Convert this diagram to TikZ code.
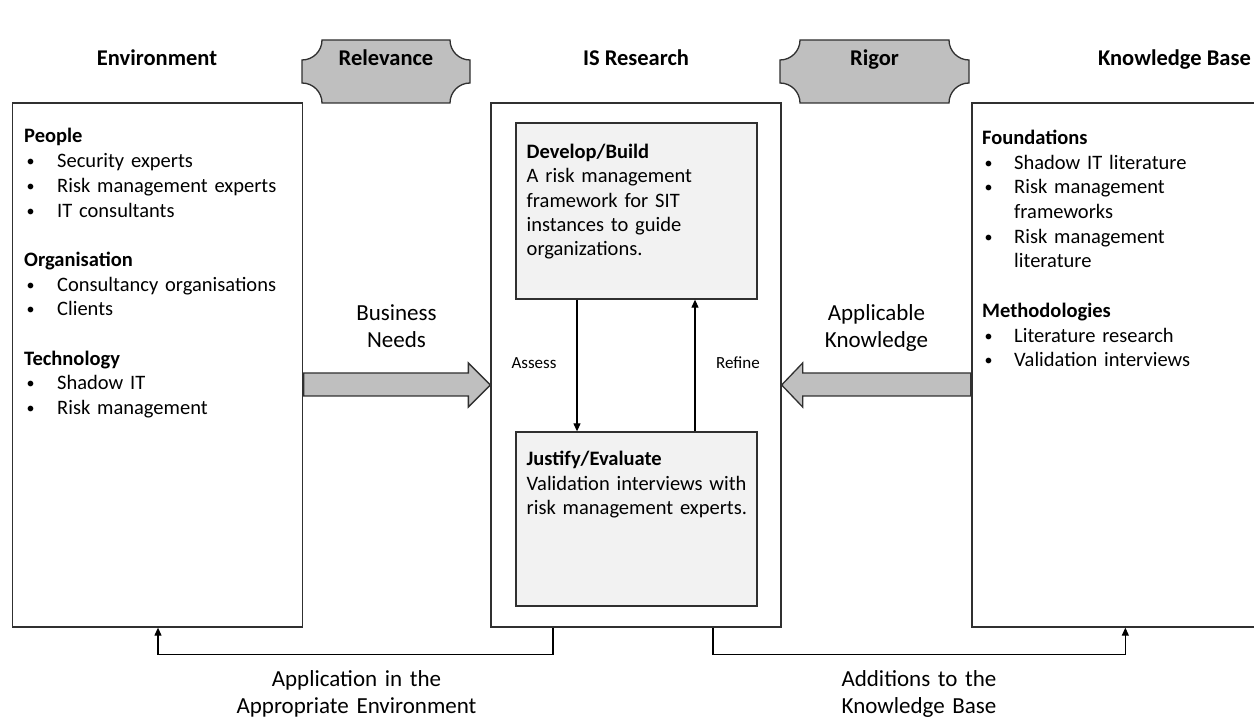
\documentclass[tikz,border=0pt]{standalone}
\usepackage{fontspec}
\setmainfont{Carlito}
\usetikzlibrary{arrows.meta,calc}

\definecolor{linegray}{HTML}{303030}
\definecolor{plaquefill}{HTML}{BFBFBF}
\definecolor{innerfill}{HTML}{F2F2F2}

% plaque with concave corners: x0, y0, x1, y1, corner radius
\newcommand\plaqueshape[5]{%
  \filldraw[plaque]
    (#1+#5,#2) -- (#3-#5,#2)
    .. controls (#3-#5,#2+0.5523*#5) and (#3-0.5523*#5,#2+#5) .. (#3,#2+#5)
    -- (#3,#4-#5)
    .. controls (#3-0.5523*#5,#4-#5) and (#3-#5,#4-0.5523*#5) .. (#3-#5,#4)
    -- (#1+#5,#4)
    .. controls (#1+#5,#4-0.5523*#5) and (#1+0.5523*#5,#4-#5) .. (#1,#4-#5)
    -- (#1,#2+#5)
    .. controls (#1+0.5523*#5,#2+#5) and (#1+#5,#2+0.5523*#5) .. cycle;}

% list bullet followed by the item indent
\newcommand\bul[1]{\makebox[#1][l]{\hspace{2.5pt}\raisebox{1pt}{\fontsize{16}{16}\selectfont\textbullet}}}

\tikzset{
  box/.style={draw=linegray, line width=1.3pt, fill=white, inner sep=0pt, rectangle},
  inbox/.style={box, fill=innerfill},
  plaque/.style={draw=linegray, line width=1.3pt, fill=plaquefill},
  blockarrow/.style={draw=linegray, line width=1.3pt, fill=plaquefill, line join=miter},
  flow/.style={draw=black, line width=1.1pt, -{Triangle[length=8pt,width=7pt]}},
  head/.style={font=\fontsize{22.5}{27}\selectfont\bfseries, inner sep=0pt, anchor=base},
  body/.style={font=\fontsize{20.5}{24.7}\selectfont, text width=#1, align=left, inner sep=0pt, anchor=base west},
  body/.default=275pt,
  lbl/.style={font=\fontsize{23}{26.5}\selectfont, text width=280pt, align=center, inner sep=0pt, anchor=base},
  small/.style={font=\fontsize{17}{20}\selectfont, inner sep=0pt, anchor=base},
}

\begin{document}
\begin{tikzpicture}[x=1pt,y=-1pt]
\useasboundingbox[fill=white] (0,0) rectangle (1254,719);

% main boxes
\node[box, minimum width=290, minimum height=524] (env) at (157.5,365) {};
\node[box, minimum width=290, minimum height=524] (res) at (636,365) {};
\node[box, minimum width=300, minimum height=524] (kb) at (1122,365) {};

% inner boxes of IS Research
\node[inbox, minimum width=241, minimum height=176] (dev) at (636.5,211) {};
\node[inbox, minimum width=241, minimum height=174] (jus) at (636.5,519) {};

% Relevance and Rigor plaques
\plaqueshape{302}{40}{470}{103}{20}
\plaqueshape{780}{40}{969}{103}{20}

% headings
\node[head] (hEnv) at (157,66) {Environment};
\node[head] (hRel) at (386,66) {Relevance};
\node[head] (hRes) at (636,66) {IS Research};
\node[head] (hRig) at (874.5,66) {Rigor};
\node[head, anchor=base east] (hKB) at (1251,66) {Knowledge Base};

% Environment contents
\node[body] (envText) at (24,143) {%
  \textbf{People}\\
  \bul{33pt}Security experts\\
  \bul{33pt}Risk management experts\\
  \bul{33pt}IT consultants\\[24.7pt]
  \textbf{Organisation}\\
  \bul{33pt}Consultancy organisations\\
  \bul{33pt}Clients\\[24.7pt]
  \textbf{Technology}\\
  \bul{33pt}Shadow IT\\
  \bul{33pt}Risk management};

% Knowledge Base contents
\node[body] (kbText) at (982,144.5) {%
  \textbf{Foundations}\\
  \bul{32pt}Shadow IT literature\\
  \bul{32pt}Risk management\\
  \hspace*{32pt}frameworks\\
  \bul{32pt}Risk management\\
  \hspace*{32pt}literature\\[24.7pt]
  \textbf{Methodologies}\\
  \bul{32pt}Literature research\\
  \bul{32pt}Validation interviews};

% IS Research contents
\node[body=228pt, font=\fontsize{20.5}{24.3}\selectfont] (devText) at (526.5,158.5) {%
  \textbf{Develop/Build}\\
  A risk management\\
  framework for SIT\\
  instances to guide\\
  organizations.};
\node[body=232pt] (jusText) at (526.5,465.5) {%
  \textbf{Justify/Evaluate}\\
  Validation interviews with\\
  risk management experts.};

% build / evaluate cycle
\draw[flow] ($(dev.south)+(-59.5,0)$) -- ($(jus.north)+(-59.5,0)$);
\draw[flow] ($(jus.north)+(58.5,0)$) -- ($(dev.south)+(58.5,0)$);
\node[small] (assess) at (534,369) {Assess};
\node[small] (refine) at (738,369) {Refine};

% block arrows
\draw[blockarrow] ($(env.east)+(0.5,8)$) -- ($(res.west)+(-22,8)$) -- ($(res.west)+(-22,-2)$)
  -- ($(res.west)+(0,20)$) -- ($(res.west)+(-22,42)$) -- ($(res.west)+(-22,31)$)
  -- ($(env.east)+(0.5,31)$) -- cycle;
\draw[blockarrow] ($(kb.west)+(-0.5,8)$) -- ($(res.east)+(21,8)$) -- ($(res.east)+(21,-2)$)
  -- ($(res.east)+(0,20)$) -- ($(res.east)+(21,42)$) -- ($(res.east)+(21,31)$)
  -- ($(kb.west)+(-0.5,31)$) -- cycle;
\node[lbl] (needs) at (396.5,321) {Business\\Needs};
\node[lbl] (applic) at (876.5,321) {Applicable\\Knowledge};

% feedback to environment and knowledge base
\draw[flow] ($(res.south)+(-83,0)$) -- ++(0,27) -| ($(env.south)+(0.5,0)$);
\draw[flow] ($(res.south)+(77,0)$) -- ++(0,27) -| ($(kb.south west)+(154,0)$);
\node[lbl] (appl) at (356.5,686.5) {Application in the\\Appropriate Environment};
\node[lbl] (addit) at (919,686.5) {Additions to the\\Knowledge Base};
\end{tikzpicture}
\end{document}
